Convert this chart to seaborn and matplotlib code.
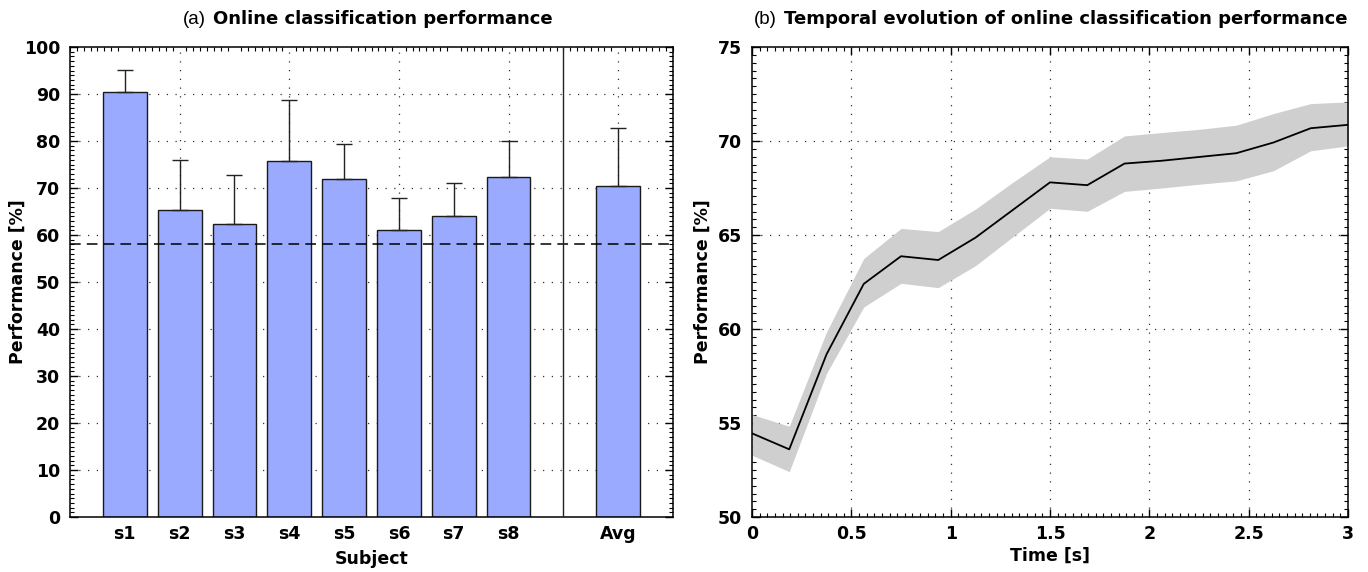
import numpy as np
import pandas as pd
import matplotlib
matplotlib.use("Agg")
import matplotlib.pyplot as plt
import seaborn as sns
from matplotlib.ticker import AutoMinorLocator, MultipleLocator

# ---------------- data ----------------
subjects = ["s1", "s2", "s3", "s4", "s5", "s6", "s7", "s8", "Avg"]
subject_pos = [1, 2, 3, 4, 5, 6, 7, 8, 10]
performance = [90.4, 65.3, 62.4, 75.7, 72.0, 61.1, 64.1, 72.4, 70.4]
perf_err_top = [95.2, 76.0, 72.8, 88.7, 79.4, 67.9, 71.0, 79.9, 82.8]
chance_level = 58.0

time_s = [0.0, 0.1875, 0.375, 0.5625, 0.75, 0.9375, 1.125, 1.3125, 1.5,
          1.6875, 1.875, 2.0625, 2.25, 2.4375, 2.625, 2.8125, 3.0]
perf_mean = [54.45, 53.6, 58.65, 62.4, 63.87, 63.67, 64.86, 66.33, 67.8,
             67.65, 68.8, 68.95, 69.15, 69.35, 69.92, 70.68, 70.86]
perf_upper = [55.45, 54.83, 59.84, 63.75, 65.35, 65.18, 66.38, 67.8, 69.16,
              69.04, 70.27, 70.45, 70.62, 70.84, 71.46, 71.99, 72.08]
perf_lower = [53.29, 52.41, 57.63, 61.17, 62.43, 62.2, 63.37, 64.9, 66.42,
              66.26, 67.32, 67.5, 67.7, 67.88, 68.42, 69.48, 69.74]

# ---------------- style ----------------
sns.set_style("ticks")
plt.rcParams["font.family"] = ["DejaVu Sans"]
plt.rcParams["font.weight"] = "bold"
for k in ["text.color", "axes.labelcolor", "xtick.color", "ytick.color", "axes.edgecolor"]:
    plt.rcParams[k] = "black"

W, H = 1368, 572
fig = plt.figure(figsize=(W / 100, H / 100), dpi=100)

def px_axes(l, r, t, b):
    return fig.add_axes([l / W, 1 - b / H, (r - l) / W, (b - t) / H])

axA = px_axes(70, 673, 47, 517)
axB = px_axes(752, 1348, 47, 517)

grid_kw = dict(color="#333333", linewidth=0.9, linestyle=(0, (1, 6)), zorder=0)
tick_fs = 12.5
label_fs = 12.5

# ---------------- panel (a) ----------------
dfA = pd.DataFrame({"pos": subject_pos, "perf": performance, "subj": subjects})
sns.barplot(data=dfA, x="pos", y="perf", native_scale=True, width=0.8,
            color="#99aaff", saturation=1, edgecolor="#1a1a1a", linewidth=1.0,
            ax=axA, zorder=2)
err_up = np.array(perf_err_top) - np.array(performance)
axA.errorbar(subject_pos, performance, yerr=[np.zeros(len(err_up)), err_up],
             fmt="none", ecolor="#222222", elinewidth=1.0, capsize=6,
             capthick=1.0, zorder=3)
axA.axhline(chance_level, color="black", linewidth=1.1, linestyle=(0, (7, 4)), zorder=4)
axA.axvline(9, color="#222222", linewidth=1.0, zorder=4)
for gx in [2, 4, 6, 8, 10]:
    axA.axvline(gx, **grid_kw)
for gy in range(10, 100, 10):
    axA.axhline(gy, **grid_kw)

axA.set_xlim(0, 11)
axA.set_ylim(0, 100)
axA.set_xticks(subject_pos)
axA.set_xticklabels(subjects, fontsize=tick_fs, fontweight="bold")
axA.set_yticks(range(0, 101, 10))
axA.set_yticklabels([str(v) for v in range(0, 101, 10)], fontsize=tick_fs, fontweight="bold")
axA.yaxis.set_minor_locator(AutoMinorLocator(10))
axA.xaxis.set_minor_locator(MultipleLocator(0.125))
axA.tick_params(axis="x", which="major", length=0, pad=6)
axA.tick_params(axis="x", which="minor", direction="in", length=3, width=0.8,
                top=True, bottom=False)
axA.tick_params(axis="y", which="major", direction="in", length=6, width=1,
                left=True, right=True, pad=7)
axA.tick_params(axis="y", which="minor", direction="in", length=3, width=0.8,
                left=True, right=True)
axA.set_xlabel("Subject", fontsize=label_fs, fontweight="bold", va="center")
axA.set_ylabel("Performance [%]", fontsize=label_fs, fontweight="bold", va="center")
axA.xaxis.set_label_coords((372 - 70) / (673 - 70), -(559 - 517) / 470)
axA.yaxis.set_label_coords(-(70 - 18) / (673 - 70), 0.5)
for s in axA.spines.values():
    s.set_linewidth(1.1)
    s.set_color("black")

# ---------------- panel (b) ----------------
dfB = pd.DataFrame({"t": time_s, "m": perf_mean, "lo": perf_lower, "hi": perf_upper})
axB.fill_between(dfB["t"], dfB["lo"], dfB["hi"], color="#cfcfcf", linewidth=0, zorder=1)
sns.lineplot(data=dfB, x="t", y="m", color="black", linewidth=1.3, ax=axB, zorder=3)
for gx in [0.5, 1.0, 1.5, 2.0, 2.5]:
    axB.axvline(gx, **grid_kw)
for gy in [55, 60, 65, 70]:
    axB.axhline(gy, **grid_kw)
axB.set_xlim(0, 3)
axB.set_ylim(50, 75)
axB.set_xticks([0, 0.5, 1, 1.5, 2, 2.5, 3])
axB.set_xticklabels(["0", "0.5", "1", "1.5", "2", "2.5", "3"], fontsize=tick_fs, fontweight="bold")
axB.set_yticks([50, 55, 60, 65, 70, 75])
axB.set_yticklabels(["50", "55", "60", "65", "70", "75"], fontsize=tick_fs, fontweight="bold")
axB.xaxis.set_minor_locator(AutoMinorLocator(13))
axB.yaxis.set_minor_locator(AutoMinorLocator(12))
axB.tick_params(which="major", direction="in", length=6, width=1,
                left=True, right=True, top=True, bottom=True, pad=7)
axB.tick_params(axis="x", which="major", pad=6)
axB.tick_params(which="minor", direction="in", length=3, width=0.8,
                left=True, right=True, top=True, bottom=True)
axB.set_xlabel("Time [s]", fontsize=label_fs, fontweight="bold", va="center")
axB.set_ylabel("Performance [%]", fontsize=label_fs, fontweight="bold", va="center")
axB.xaxis.set_label_coords((1050 - 752) / (1348 - 752), -(556 - 517) / 470)
axB.yaxis.set_label_coords(-(752 - 703) / (1348 - 752), 0.5)
for s in axB.spines.values():
    s.set_linewidth(1.1)
    s.set_color("black")

# ---------------- titles ----------------
def title(x_bold_start, tag, text):
    y = 1 - 19 / H
    fig.text((x_bold_start - 7) / W, y, tag, ha="right", va="center", fontsize=13.5,
             fontweight="normal", family=["Liberation Sans", "DejaVu Sans"])
    fig.text(x_bold_start / W, y, text, ha="left", va="center", fontsize=13,
             fontweight="bold")

title(213, "(a)", "Online classification performance")
title(784, "(b)", "Temporal evolution of online classification performance")

fig.savefig("out.png", dpi=100)
